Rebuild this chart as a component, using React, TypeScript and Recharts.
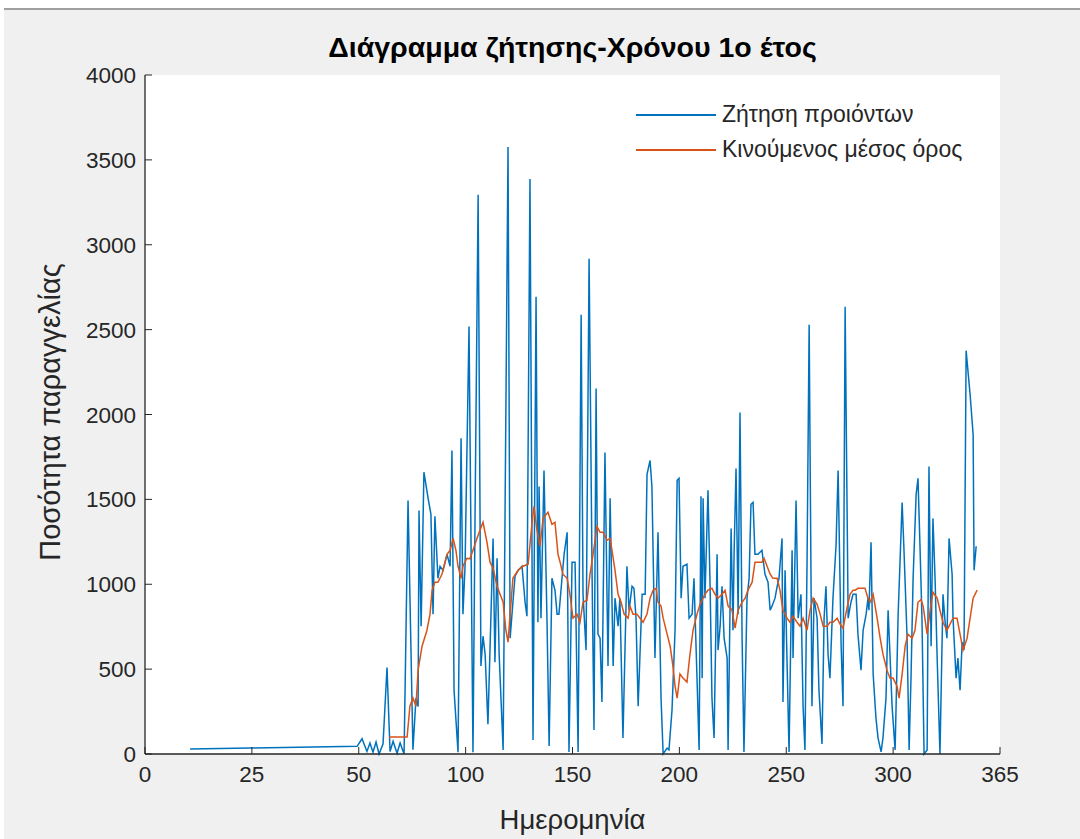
import { LineChart, Line, XAxis, YAxis, CartesianGrid } from "recharts";

// [day, quantity]
const demand: [number, number][] = [
  [19.3, 30], [45.0, 35], [90.8, 45], [92.9, 90], [95.0, 15], [96.3, 65], [97.6, 10], [98.9, 70], [100.2, 0], [101.9, 60],
  [103.6, 510], [104.9, 15], [106.2, 75], [107.9, 5], [109.2, 65], [110.9, 0], [112.6, 1494], [114.7, 25], [116.0, 330], [116.9, 280],
  [117.3, 1435], [118.2, 753], [119.4, 1660], [121.2, 1506], [122.4, 1412], [123.3, 824], [124.1, 1400], [125.4, 1035], [126.3, 1106], [127.6, 1082],
  [129.3, 1176], [130.6, 1106], [131.4, 1788], [132.3, 376], [134.0, 10], [135.3, 1860], [136.1, 824], [137.0, 1106], [138.7, 2518], [140.4, 10],
  [141.3, 1435], [142.6, 3294], [143.8, 518], [144.7, 694], [145.6, 588], [146.8, 176], [149.0, 1270], [149.8, 541], [150.7, 1153], [151.6, 588],
  [153.3, 24], [155.4, 3576], [156.3, 682], [157.5, 894], [158.4, 1047], [159.7, 1082], [161.4, 1106], [162.7, 894], [163.5, 812], [164.8, 3388],
  [166.1, 82], [167.4, 2694], [168.2, 776], [168.7, 1576], [169.5, 800], [170.8, 1670], [172.1, 776], [173.0, 47], [174.2, 1035], [175.5, 965],
  [176.4, 824], [177.2, 824], [178.5, 1035], [179.4, 1176], [180.7, 1306], [181.5, 12], [182.8, 1130], [184.1, 1130], [185.4, 12], [186.7, 2588],
  [187.5, 941], [188.8, 612], [190.1, 2918], [191.4, 1035], [192.2, 141], [193.1, 2153], [193.9, 706], [194.8, 682], [195.6, 306], [196.9, 1776],
  [198.2, 518], [199.1, 1506], [200.4, 518], [201.2, 918], [202.5, 753], [203.3, 918], [204.6, 94], [206.3, 1106], [207.2, 847], [208.5, 988],
  [209.3, 976], [210.2, 800], [211.1, 282], [212.8, 941], [214.1, 941], [214.9, 1647], [216.2, 1729], [217.0, 1576], [218.3, 565], [219.6, 1306],
  [220.9, 329], [221.8, 0], [223.5, 35], [224.3, 24], [225.6, 259], [226.9, 729], [227.8, 1612], [228.6, 1624], [229.5, 918], [230.3, 1106],
  [232.0, 1118], [232.9, 800], [234.2, 824], [235.0, 1035], [236.3, 447], [237.2, 24], [238.0, 1518], [238.5, 447], [238.9, 1506], [239.7, 918],
  [241.0, 1553], [241.9, 988], [242.7, 329], [243.6, 94], [244.9, 1176], [245.3, 612], [246.2, 753], [247.0, 988], [247.9, 682], [249.2, 565],
  [249.6, 24], [250.9, 1329], [251.7, 729], [252.2, 1200], [253.0, 1682], [253.9, 824], [254.7, 2012], [255.6, 682], [256.4, 12], [257.7, 918],
  [258.6, 1035], [259.4, 1471], [260.3, 1482], [261.1, 1176], [262.4, 1176], [264.1, 1200], [265.4, 1059], [266.7, 1012], [267.6, 847], [268.4, 871],
  [269.7, 918], [270.6, 988], [271.4, 1035], [272.7, 1270], [273.1, 306], [274.0, 1082], [274.8, 565], [275.7, 12], [277.0, 1200], [277.4, 565],
  [278.7, 1494], [279.6, 800], [280.8, 941], [281.7, 282], [282.5, 24], [283.4, 1130], [284.3, 2529], [285.5, 282], [286.4, 918], [287.7, 800],
  [288.5, 376], [289.8, 59], [290.7, 800], [291.5, 988], [292.4, 588], [293.2, 447], [294.5, 918], [295.8, 1224], [296.7, 1670], [298.0, 635],
  [298.8, 282], [299.7, 2635], [301.0, 800], [302.2, 894], [303.1, 941], [304.4, 941], [305.2, 706], [306.5, 494], [307.4, 729], [308.7, 824],
  [309.5, 918], [309.9, 847], [310.8, 1247], [311.7, 471], [312.9, 212], [313.8, 94], [315.1, 12], [315.9, 94], [317.2, 329], [318.1, 847],
  [318.9, 588], [319.8, 282], [321.1, 24], [322.4, 824], [323.2, 1130], [324.1, 1482], [324.9, 1200], [326.2, 694], [327.1, 24], [327.9, 447],
  [328.8, 1035], [330.1, 1529], [330.9, 1624], [331.8, 1200], [332.6, 800], [333.5, 0], [334.8, 24], [335.6, 1694], [336.5, 635], [337.3, 1388],
  [338.2, 1035], [339.1, 565], [340.3, 0], [341.6, 941], [342.5, 776], [343.3, 682], [344.2, 1270], [345.5, 1059], [345.9, 800], [347.2, 447],
  [348.0, 565], [348.9, 376], [349.8, 659], [350.6, 612], [351.5, 2376], [353.2, 2118], [354.5, 1882], [354.9, 1082], [355.8, 1224],
];

const movingAvg: [number, number][] = [
  [104.5, 100], [107.0, 100], [109.2, 100], [112.2, 100], [113.4, 282], [114.7, 330], [116.0, 282], [116.9, 494], [118.6, 635], [120.7, 729],
  [122.0, 824], [122.9, 965], [124.1, 1012], [125.4, 1012], [127.1, 1059], [128.4, 1130], [129.3, 1176], [130.6, 1200], [131.9, 1270], [133.1, 1200],
  [134.0, 1106], [135.3, 1035], [136.1, 1106], [137.8, 1153], [139.1, 1150], [140.4, 1200], [142.1, 1270], [143.4, 1318], [144.7, 1365], [146.4, 1247],
  [147.7, 1130], [149.0, 1094], [150.7, 988], [152.0, 941], [153.3, 894], [154.5, 729], [155.4, 659], [156.3, 824], [157.5, 1035], [159.7, 1082],
  [161.8, 1106], [164.0, 1118], [165.7, 1365], [166.5, 1459], [167.8, 1318], [169.1, 1224], [170.4, 1388], [172.5, 1424], [174.2, 1353], [175.5, 1365],
  [176.8, 1176], [177.7, 1130], [178.9, 1059], [180.7, 1035], [181.9, 941], [183.2, 800], [184.9, 824], [186.2, 776], [187.5, 894], [189.2, 906],
  [190.5, 1059], [191.8, 1176], [193.5, 1341], [194.8, 1306], [196.1, 1306], [197.8, 1259], [199.1, 1270], [199.9, 1200], [201.2, 1082], [202.5, 941],
  [203.8, 894], [205.1, 824], [206.8, 800], [207.6, 871], [208.9, 824], [210.6, 824], [211.9, 800], [213.2, 776], [214.9, 824], [216.2, 918],
  [217.5, 965], [218.8, 976], [219.6, 894], [220.9, 871], [221.8, 800], [223.5, 706], [224.8, 635], [226.0, 518], [226.9, 400], [227.8, 329],
  [229.0, 471], [230.3, 447], [232.0, 424], [233.3, 588], [234.6, 729], [236.3, 824], [237.6, 882], [238.9, 918], [239.7, 941], [241.0, 965],
  [242.7, 976], [244.0, 941], [245.3, 918], [247.0, 941], [248.3, 965], [249.6, 871], [251.3, 847], [252.6, 741], [253.9, 847], [255.6, 894],
  [256.9, 918], [258.1, 965], [259.9, 1012], [261.1, 1130], [262.4, 1130], [264.1, 1130], [265.0, 1153], [266.3, 1106], [267.6, 1059], [268.8, 1035],
  [270.6, 1035], [271.8, 965], [273.1, 847], [274.8, 800], [276.1, 776], [277.4, 812], [279.1, 776], [280.4, 753], [281.7, 800], [283.4, 729],
  [284.7, 847], [286.0, 918], [287.7, 882], [289.0, 824], [290.3, 753], [292.0, 753], [293.2, 776], [294.5, 776], [296.3, 800], [297.5, 765],
  [298.8, 741], [300.5, 859], [301.8, 941], [303.1, 965], [304.0, 965], [305.2, 976], [307.0, 976], [308.2, 976], [309.5, 918], [310.4, 894],
  [311.7, 941], [313.4, 800], [314.7, 682], [315.9, 588], [317.6, 494], [318.9, 447], [320.2, 447], [321.9, 400], [322.8, 329], [324.1, 471],
  [325.4, 635], [326.6, 706], [328.4, 682], [329.6, 729], [330.9, 894], [332.2, 910], [333.1, 871], [334.8, 706], [336.1, 847], [337.3, 953],
  [339.1, 918], [340.3, 847], [341.6, 776], [343.3, 729], [344.6, 765], [345.9, 800], [347.6, 800], [348.9, 706], [350.2, 612], [351.9, 682],
  [353.2, 800], [354.5, 918], [356.2, 965],
];

const yTicks = [0, 500, 1000, 1500, 2000, 2500, 3000, 3500, 4000];
const xTicks = [0, 45.75, 91.5, 137.25, 183, 228.75, 274.5, 320.25, 366];
const xTickLabels = ["0", "25", "50", "100", "150", "200", "250", "300", "365"];

const seriesNames = ["Ζήτηση προιόντων", "Κινούμενος μέσος όρος"];
const title = "Διάγραμμα ζήτησης-Χρόνου 1ο έτος";
const xLabel = "Ημερομηνία";
const yLabel = "Ποσότητα παραγγελίας";

const demandData = demand.map(([day, qty]) => ({ day, qty }));
const avgData = movingAvg.map(([day, qty]) => ({ day, qty }));

const FONT = '"Liberation Sans", Arial, Helvetica, sans-serif';
const INK = "#262626";
const BLUE = "#0072BD";
const ORANGE = "#D95319";

function YTick({ x, y, payload }: any) {
  // axis sits tickMargin (9px) right of x; ticks point inward
  return (
    <g>
      <line x1={x + 9} x2={x + 16} y1={y} y2={y} stroke={INK} />
      <text x={x} y={y} dy="0.36em" textAnchor="end" fill={INK} fontSize={22.5} fontFamily={FONT}>
        {payload.value}
      </text>
    </g>
  );
}

function XTick({ x, y, payload }: any) {
  const i = xTicks.indexOf(payload.value);
  return (
    <g>
      <line x1={x} x2={x} y1={y - 12} y2={y - 19} stroke={INK} />
      <text x={x} y={y} dy="0.72em" textAnchor="middle" fill={INK} fontSize={22.5} fontFamily={FONT}>
        {xTickLabels[i]}
      </text>
    </g>
  );
}

export default function App() {
  return (
    <div style={{ position: "fixed", left: 0, top: 0, width: 1080, height: 839, background: "#fff", overflow: "hidden", fontFamily: FONT }}>
      <div style={{ position: "absolute", left: 4, top: 8, right: 0, bottom: 0, background: "#f0f0f0", borderTop: "2px solid #a0a0a0" }} />

      <div style={{ position: "absolute", left: 0, top: 0 }}>
        <LineChart width={1080} height={839} data={demandData} margin={{ top: 75, right: 80, bottom: 45, left: 85 }}>
          <CartesianGrid horizontal={false} vertical={false} fill="#ffffff" />
          <XAxis
            dataKey="day"
            type="number"
            domain={[0, 366]}
            ticks={xTicks}
            interval={0}
            height={40}
            tickSize={0}
            tickMargin={12}
            tick={<XTick />}
            axisLine={{ stroke: INK, strokeWidth: 1.3 }}
            tickLine={false}
            allowDataOverflow
          />
          <YAxis
            type="number"
            domain={[0, 4000]}
            ticks={yTicks}
            interval={0}
            width={60}
            tickSize={0}
            tickMargin={9}
            tick={<YTick />}
            axisLine={{ stroke: INK, strokeWidth: 1.3 }}
            tickLine={false}
          />
          <Line data={demandData} dataKey="qty" type="linear" stroke={BLUE} strokeWidth={1.5} dot={false} isAnimationActive={false} />
          <Line data={avgData} dataKey="qty" type="linear" stroke={ORANGE} strokeWidth={1.5} dot={false} isAnimationActive={false} />
        </LineChart>
      </div>

      <div style={{ position: "absolute", left: 145, width: 855, top: 31, textAlign: "center", fontSize: 28.5, fontWeight: "bold", color: "#000" }}>
        {title}
      </div>
      <div style={{ position: "absolute", left: 145, width: 855, top: 804, textAlign: "center", fontSize: 27.5, color: INK }}>
        {xLabel}
      </div>
      <div
        style={{
          position: "absolute", left: 50, top: 412, width: 400, marginLeft: -200, textAlign: "center",
          fontSize: 29, color: INK, transform: "translateY(-50%) rotate(-90deg)", lineHeight: "32px",
        }}
      >
        {yLabel}
      </div>

      <div style={{ position: "absolute", left: 636, top: 97, fontSize: 23, color: INK }}>
        {seriesNames.map((name, i) => (
          <div key={name} style={{ display: "flex", alignItems: "center", height: 35 }}>
            <div style={{ width: 80, height: 0, borderTop: `2px solid ${i === 0 ? BLUE : ORANGE}`, marginRight: 6 }} />
            <span>{name}</span>
          </div>
        ))}
      </div>
    </div>
  );
}
